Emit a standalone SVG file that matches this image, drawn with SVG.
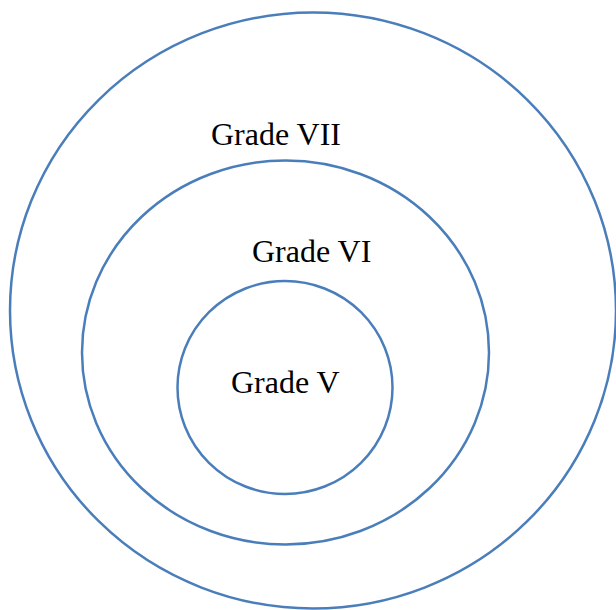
<svg xmlns="http://www.w3.org/2000/svg" width="616" height="610" viewBox="0 0 616 610">
  <style>
    .ring { fill: none; stroke: #4a7ebb; stroke-width: 2.5; }
    .label { font-family: "Liberation Serif", "Times New Roman", serif; font-size: 32px; fill: #000; }
  </style>
  <rect width="616" height="610" fill="#fff"/>
  <g id="grade-vii">
    <ellipse class="ring" cx="313" cy="310.5" rx="303" ry="298"/>
    <text class="label" x="211" y="145">Grade VII</text>
  </g>
  <g id="grade-vi">
    <ellipse class="ring" cx="285.5" cy="352.5" rx="203.5" ry="192"/>
    <text class="label" x="252" y="262">Grade VI</text>
  </g>
  <g id="grade-v">
    <ellipse class="ring" cx="285" cy="387.5" rx="107.5" ry="106.5"/>
    <text class="label" x="231" y="393">Grade V</text>
  </g>
  <g id="connectors"/>
</svg>
